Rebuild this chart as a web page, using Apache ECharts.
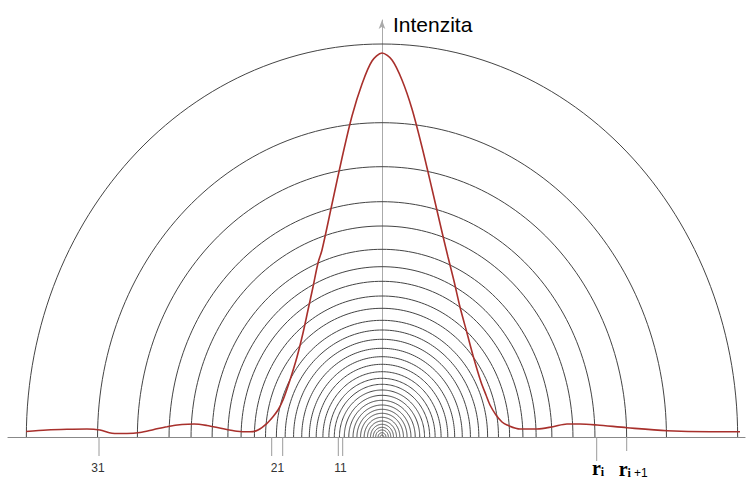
<!DOCTYPE html>
<html>
<head>
<meta charset="utf-8">
<script src="https://cdn.jsdelivr.net/npm/echarts@6/dist/echarts.min.js"></script>
<style>
html,body{margin:0;padding:0;background:#fff;}
#chart{width:751px;height:481px;}
</style>
</head>
<body>
<div id="chart"></div>
<script>
// Ring radii (height of each semicircular ring above the baseline), from inside out
const ringRadii = [2, 4.3, 7, 9.7, 12.7, 16, 19.7, 23.7, 27.7, 32, 36.7, 41.7, 47, 52.7, 58.7, 65.3,
  72.7, 80.3, 88.7, 97.7, 107, 116.7, 128.7, 141, 155.7, 170.3, 187.7, 211, 235.3, 270.3, 314.3, 393];

// Intensity profile: radial position and intensity
const profileX = [-356, -335, -315, -295, -282, -270, -255, -242, -228, -215, -200, -188, -175, -160, -145,
  -132, -124, -115, -109, -104, -99, -92, -85, -79, -74, -69, -64, -60, -50, -40, -30, -20, -10, 0,
  10, 20, 30, 40, 50, 60, 66, 72, 78, 85, 92, 99, 104, 108, 114, 120, 125, 138, 155, 171, 185, 198,
  215, 245, 285, 328, 358];
const profileI = [5.5, 7, 7.7, 8, 7, 3.8, 3.5, 4.5, 7.5, 10.3, 12.5, 13, 11.5, 8.5, 5.8,
  5.2, 7, 13.7, 20.3, 27, 37, 57, 80, 104, 127, 150, 174, 187, 233, 279, 321, 353, 376, 384,
  377, 357, 328, 290, 248, 205, 180, 156, 130, 104, 78, 55, 42, 32, 22, 15, 12, 8, 8, 10.3, 13, 13,
  12, 9.3, 6.3, 5.3, 5.3];

// Marked radii below the baseline and their labels
const tickX = [-283, -110.3, -99.3, -43.7, -39.3, 214.7, 244.7];
const labelX = [-284, -104.5, -41.5, 215, 244.7];
const labelText = ['31', '21', '11', 'ri', 'ri+1'];
const axisName = 'Intenzita';

const RING_X_SCALE = 0.905;   // horizontal/vertical aspect of the drawn rings
const tickLen = [19, 19, 19, 19, 19, 24, 14];

const chart = echarts.init(document.getElementById('chart'), null, {renderer: 'svg'});

function ringItem(params, api) {
  const r = api.value(0);
  const pts = [];
  const N = 120;
  for (let k = 0; k <= N; k++) {
    const t = Math.PI * k / N;
    pts.push(api.coord([r * RING_X_SCALE * Math.cos(t), r * Math.sin(t)]));
  }
  return {type: 'polyline', shape: {points: pts},
    style: {stroke: '#444', fill: null, lineWidth: 1}};
}

function tickItem(params, api) {
  const p = api.coord([api.value(0), 0]);
  const len = tickLen[params.dataIndex];
  return {type: 'line', shape: {x1: p[0], y1: p[1], x2: p[0], y2: p[1] + len},
    style: {stroke: '#9a9a9a', lineWidth: 1}};
}

function labelItem(params, api) {
  const p = api.coord([api.value(0), 0]);
  const t = labelText[params.dataIndex];
  const rich = {
    r: {fontFamily: 'Liberation Serif', fontSize: 20, fontWeight: 'bold', color: '#222', lineHeight: 18},
    s: {fontFamily: 'Liberation Serif', fontSize: 12, fontWeight: 'bold', color: '#222', lineHeight: 12, padding: [7, 0, 0, 0]},
    p: {fontFamily: 'Liberation Sans', fontSize: 12, color: '#222', lineHeight: 12, padding: [7, 0, 0, 3]}
  };
  if (t === 'ri') {
    return {type: 'text', x: p[0] + 1, y: p[1] + 31,
      style: {text: '{r|r}{s|i}', rich: rich, align: 'center', verticalAlign: 'middle'}};
  }
  if (t === 'ri+1') {
    return {type: 'text', x: p[0] - 8, y: p[1] + 32,
      style: {text: '{r|r}{s|i}{p|+1}', rich: rich, align: 'left', verticalAlign: 'middle'}};
  }
  return {type: 'text', x: p[0], y: p[1] + 31,
    style: {text: t, fontFamily: 'Liberation Sans', fontSize: 12, fill: '#333',
      align: 'center', verticalAlign: 'middle'}};
}

chart.setOption({
  animation: false,
  grid: {left: 8, right: 6, top: 20, bottom: 44},
  xAxis: {
    type: 'value', min: -374, max: 363,
    axisLine: {onZero: true, lineStyle: {color: '#888', width: 1.2}},
    axisTick: {show: false}, axisLabel: {show: false}, splitLine: {show: false}
  },
  yAxis: {
    type: 'value', min: 0, max: 417,
    name: axisName, nameLocation: 'end', nameGap: -4,
    nameTextStyle: {fontFamily: 'Liberation Sans', fontSize: 21, color: '#000',
      align: 'left', verticalAlign: 'middle', padding: [0, 0, 0, 11]},
    axisLine: {show: true, onZero: true, symbol: ['none', 'arrow'], symbolSize: [5, 9],
      lineStyle: {color: '#aaa', width: 1}},
    axisTick: {show: false}, axisLabel: {show: false}, splitLine: {show: false}
  },
  series: [
    {type: 'custom', renderItem: ringItem, data: ringRadii.map(r => [r]), silent: true, z: 2, clip: false},
    {type: 'custom', renderItem: tickItem, data: tickX.map(x => [x]), silent: true, z: 1, clip: false},
    {type: 'custom', renderItem: labelItem, data: labelX.map(x => [x]), silent: true, z: 1, clip: false},
    {type: 'line', data: profileX.map((x, i) => [x, profileI[i]]), smooth: 0.3, showSymbol: false,
      lineStyle: {color: '#a8302c', width: 1.6}, silent: true, z: 5}
  ]
});
</script>
</body>
</html>
